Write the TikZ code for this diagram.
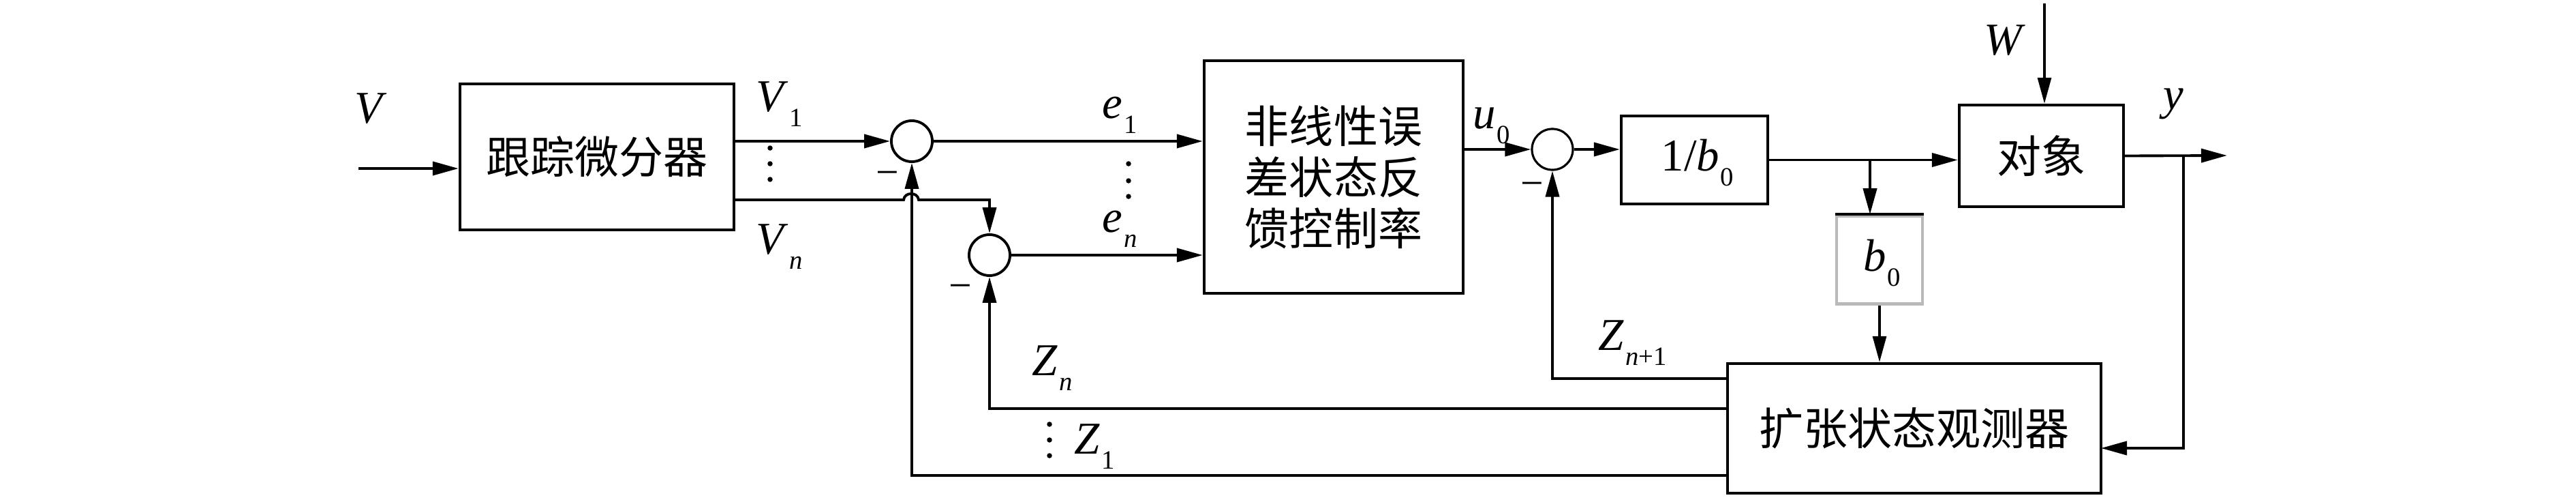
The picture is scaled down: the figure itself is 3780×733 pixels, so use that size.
\documentclass[tikz,border=0pt]{standalone}
\usepackage{fontspec}
\setmainfont{Liberation Serif}
\newfontfamily\cjk{Noto Sans CJK SC}
\usetikzlibrary{arrows.meta}
\newcommand{\sbx}[2]{#1\kern0.5pt\raisebox{-6.3pt}{\fontsize{11}{11}\selectfont #2}}
\begin{document}
\begin{tikzpicture}[x=0.01cm,y=-0.01cm,
 ln/.style={line width=1.1pt},
 arr/.style={ln,-{Triangle[length=0.38cm,width=0.2cm]}},
 blk/.style={draw,line width=1.2pt,inner sep=0pt},
 sumc/.style={draw,circle,line width=1.1pt,minimum size=0.6cm,inner sep=0pt},
 lab/.style={font=\fontsize{19}{19}\selectfont,inner sep=0pt,anchor=base west},
 mn/.style={font=\fontsize{17}{17}\selectfont,inner sep=0pt},
 cn/.style={font=\cjk\fontsize{18.5}{21.3}\selectfont,align=center},
 dotf/.style={fill,circle,inner sep=0pt,minimum size=0.075cm}]
\useasboundingbox (0,0) rectangle (3780,733);
% blocks
\node[blk,cn,minimum width=4.02cm,minimum height=2.14cm] (td) at (876,230) {跟踪微分器};
\node[blk,cn,minimum width=3.80cm,minimum height=3.41cm] (nl) at (1957,259.5) {非线性误\\差状态反\\馈控制率};
\node[blk,minimum width=2.15cm,minimum height=1.29cm] (inv) at (2486.5,234.5) {};
\node[blk,draw=gray!55,line width=1.3pt,minimum width=1.26cm,minimum height=1.29cm] (b0) at (2758,381) {};
\draw[line width=1.3pt] (b0.north west) -- (b0.north east);
\node[blk,cn,minimum width=2.41cm,minimum height=1.49cm] (plant) at (2995.5,228.5) {对象};
\node[blk,cn,minimum width=5.48cm,minimum height=1.90cm] (eso) at (2809,628) {扩张状态观测器};
% summing junctions
\node[sumc] (s1) at (1338,207) {};
\node[sumc] (s2) at (1452,374) {};
\node[sumc,line width=0.9pt] (s3) at (2278,219) {};
% coordinates
\coordinate (vin) at (526,247);
\coordinate (vn0) at (1077,293);
\coordinate (z1s) at (2535,697);
\coordinate (zns) at (2535,599);
\coordinate (zn1s) at (2535,555);
\coordinate (br) at (2744,233);
\coordinate (yb) at (3204,228);
\coordinate (yend) at (3268,228);
\coordinate (yin) at (3083,657);
\coordinate (wtop) at (3000,5);
% connectors
\draw[arr] (vin) -- (vin -| td.west);
\draw[arr] (s1 -| td.east) -- (s1.west);
\draw[arr] (vn0) -- (1326,293) .. controls (1327,281) and (1347,281) .. (1348,293) -| (s2.north);
\draw[arr] (s1.east) -- (s1 -| nl.west);
\draw[arr] (s2.east) -- (s2 -| nl.west);
\draw[arr] (s3 -| nl.east) -- (s3.west);
\draw[arr] (s3.east) -- (s3 -| inv.west);
\draw[arr] (inv.east) -- (inv.east -| plant.west);
\draw[arr] (br) -- (br |- b0.north);
\draw[arr,line width=0.9pt] (b0.south) -- (b0.south |- eso.north);
\draw[arr,line width=0.9pt] (wtop) -- (wtop |- plant.north);
\draw[arr] (plant.east) -- (yend);
\draw[arr] (yb) |- (yin);
\draw[arr] (zn1s) -| (s3.south);
\draw[arr] (zns) -| (s2.south);
\draw[arr] (z1s) -| (s1.south);
% labels
\node[lab] (lv) at (520,180) {\textit{V}};
\node[lab] (lv1) at (1109,163) {\sbx{\textit{V}}{1}};
\node[lab] (lvn) at (1109,372) {\sbx{\textit{V}}{\textit{n}}};
\node[lab] (le1) at (1617,173) {\sbx{\textit{e}}{1}};
\node[lab] (len) at (1617,340) {\sbx{\textit{e}}{\textit{n}}};
\node[lab] (lu0) at (2161,188) {\sbx{\textit{u}}{0}};
\node[lab] (lzn) at (1514,550) {\sbx{\textit{Z}}{\textit{n}}};
\node[lab] (lz1) at (1576,665) {\sbx{\textit{Z}}{1}};
\node[lab] (lzn1) at (2345,513) {\sbx{\textit{Z}}{\textit{n}+1}};
\node[lab] (lw) at (2911,80) {\textit{W}};
\node[lab] (ly) at (3174,160) {\textit{y}};
\node[lab] (linv) at (2437,250) {\sbx{1/\textit{b}}{0}};
\node[lab] (lb0) at (2734,397) {\sbx{\textit{b}}{0}};
% minus signs
\node[mn] (m1) at (1302,262) {−};
\node[mn] (m2) at (1409,428) {−};
\node[mn] (m3) at (2248,278) {−};
% dots
\foreach \yy [count=\i] in {217,240,263} \node[dotf] (dv\i) at (1130,\yy) {};
\foreach \yy [count=\i] in {240,265,288} \node[dotf] (de\i) at (1656,\yy) {};
\foreach \yy [count=\i] in {622,645,668} \node[dotf] (dz\i) at (1540,\yy) {};
\end{tikzpicture}
\end{document}
